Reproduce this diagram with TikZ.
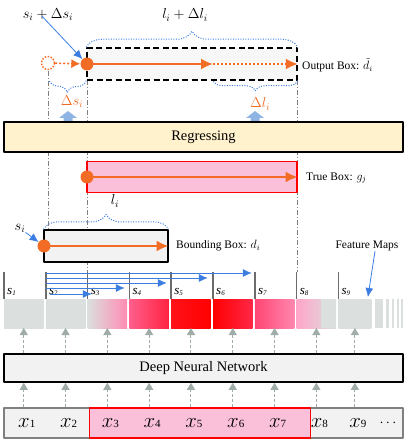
\documentclass[tikz,border=0pt]{standalone}
\usepackage{fontspec}
\setmainfont{Liberation Serif}
\usetikzlibrary{arrows.meta,decorations.pathreplacing}

\definecolor{boxorange}{RGB}{242,108,38}
\definecolor{arrowblue}{RGB}{60,125,225}
\definecolor{fatblue}{RGB}{142,180,227}
\definecolor{paleyellow}{RGB}{255,242,204}
\definecolor{truepink}{RGB}{250,192,218}
\definecolor{cellgray}{RGB}{219,223,222}
\definecolor{flowgray}{RGB}{160,172,168}
\definecolor{boxfill}{RGB}{242,242,242}
\definecolor{heatA}{RGB}{255,140,180}
\definecolor{heatB}{RGB}{255,95,140}
\definecolor{heatC}{RGB}{255,35,65}
\definecolor{heatD}{RGB}{255,18,25}
\definecolor{heatE}{RGB}{255,0,0}
\definecolor{heatF}{RGB}{255,40,72}
\definecolor{heatG}{RGB}{255,70,115}
\definecolor{heatH}{RGB}{255,135,175}
\definecolor{heatI}{RGB}{255,165,200}

\begin{document}
\begin{tikzpicture}[x=1pt, y=-1pt, line join=round,
  box/.style={draw, line width=1.5pt, fill=boxfill, inner sep=0pt},
  odot/.style={circle, fill=boxorange, inner sep=0pt, minimum size=13pt},
  movearrow/.style={-{Latex[length=12pt,width=11pt]}, boxorange, line width=2.6pt},
  pointer/.style={-{Latex[length=9pt,width=8pt]}, arrowblue, line width=0.8pt},
  brc/.style={arrowblue, line width=1pt, dash pattern=on 1pt off 1.5pt,
    decorate, decoration={brace, amplitude=#1}},
  guide/.style={gray, dash pattern=on 5pt off 2pt on 1pt off 2pt, line width=0.8pt},
  flow/.style={-{Triangle[length=7pt,width=8pt]}, flowgray, dash pattern=on 3pt off 2pt, line width=1pt},
  tickline/.style={gray!85!black, line width=1.5pt},
  lab/.style={font=\fontsize{11.5}{13}\selectfont, anchor=west, inner sep=0pt},
  mathlab/.style={font=\fontsize{14}{16}\selectfont, inner sep=0pt},
  bigtext/.style={font=\fontsize{14.5}{16}\selectfont}
]
\useasboundingbox (0,0) rectangle (409,443);

% guide lines behind everything
\draw[guide] (48,71) -- (48,229);
\draw[guide] (87,80) -- (87,272);
\draw[guide] (297,80) -- (297,272);

% output box
\node[box, fill=gray!6, dash pattern=on 6pt off 3.5pt, minimum width=210pt, minimum height=32pt] (obox) at (192,64) {};
\node[lab] (olab) at (302,65) {Output Box: $\tilde{d}_i$};
\node[circle, draw=boxorange, line width=1.5pt, dash pattern=on 1.5pt off 1.5pt, minimum size=13pt, inner sep=0pt] (oold) at (48,63) {};
\node[odot] (onew) at (87,64) {};
\coordinate (omid) at (213,64);
\draw[movearrow, line width=1.5pt, dash pattern=on 2pt off 2pt, -{Latex[length=9pt,width=9pt]}] (oold) -- (onew);
\draw[movearrow] (onew.center) -- (omid);
\draw[movearrow, line width=1.8pt, dash pattern=on 2pt off 2pt] (omid) -- (obox.east);
\draw[brc=16pt] (obox.north west) -- (obox.north east);
\draw[brc=12pt] (obox.south west) -- (49,80);
\draw[brc=10pt] (obox.south east) -- (omid |- obox.south);
\node[mathlab] (ltop) at (185,15) {$l_i + \Delta l_i$};
\node[mathlab] (stop) at (48,15) {$s_i + \Delta s_i$};
\draw[pointer] (stop.south) ++(-6,-5) -- (onew);
\node[mathlab, text=boxorange] (dslab) at (72,102) {$\Delta s_i$};
\node[mathlab, text=boxorange] (dllab) at (260,104) {$\Delta l_i$};
\foreach \ax in {68,255}
  \fill[fatblue] (\ax-4.5,122) -- (\ax-4.5,118) -- (\ax-9,118) -- (\ax,111)
    -- (\ax+9,118) -- (\ax+4.5,118) -- (\ax+4.5,122) -- cycle;

% regression layer
\node[box, fill=paleyellow, minimum width=399pt, minimum height=30pt, bigtext] (reg) at (203.5,137) {Regressing};

% true box
\node[draw=red, fill=truepink, line width=1.2pt, minimum width=210pt, minimum height=31pt, inner sep=0pt] (tbox) at (192,177) {};
\node[odot] (tdot) at (87,177) {};
\draw[movearrow] (tdot.center) -- (tbox.east);
\node[lab] (tlab) at (306,178) {True Box: $g_j$};

% bounding box
\node[box, line width=1.2pt, minimum width=124pt, minimum height=32pt] (bbox) at (106,246) {};
\node[odot] (bdot) at (44,246) {};
\draw[movearrow] (bdot.center) -- (bbox.east);
\draw[brc=15pt] (bbox.north west) -- (bbox.north east);
\node[mathlab] (lmid) at (115,201) {$l_i$};
\node[mathlab] (smid) at (20,228) {$s_i$};
\draw[pointer] (smid.south east) -- (bdot);
\node[lab] (blab) at (176,246) {Bounding Box: $d_i$};

% feature maps
\foreach \i/\w/\lc/\rc in {1/39.5/cellgray/cellgray, 2/39.5/cellgray/cellgray,
    3/39.5/cellgray/heatA, 4/39.5/heatB/heatC, 5/39.5/heatD/heatE,
    6/39.5/heatE/heatF, 7/39.5/heatG/heatH, 8/39.5/heatI/cellgray, 9/33/cellgray/cellgray}{
  \node[minimum width=\w pt, minimum height=29pt, inner sep=0pt, outer sep=0pt,
    left color=\lc, right color=\rc, anchor=north west] (f\i) at ({4+41.8*(\i-1)},299) {};
  \draw[tickline] (f\i.north west) -- ++(0,-27);
  \node[anchor=west, inner sep=0pt, font=\fontsize{13}{13}\selectfont] (s\i) at ([xshift=3pt,yshift=7pt]f\i.north west) {\textit{s}\raisebox{-1.5pt}{\fontsize{7}{7}\selectfont\itshape\i}};
}
\fill[cellgray] ([xshift=-15pt]f8.north east) rectangle (f8.south east);
\foreach \a/\b in {375/383, 386/389, 392/394, 397/398.5, 401/403}
  \fill[cellgray] (\a,299) rectangle (\b,328);
\foreach \dy/\dx/\len in {26/0/206, 21/0/162, 16/0/121, 11/0/79, 5/4/42}
  \draw[pointer] ([xshift=\dx pt, yshift=\dy pt]f2.north west) -- ++(\len,0);
\node[lab, anchor=center] (fmlab) at (367,246) {Feature Maps};
\draw[pointer] ([xshift=8pt]fmlab.south) -- ([xshift=13pt,yshift=2pt]f9.north);

% network and input
\node[box, minimum width=399pt, minimum height=28pt, bigtext] (dnn) at (203.5,368) {Deep Neural Network};
\node[box, draw=gray, minimum width=399pt, minimum height=30pt] (inbox) at (203.5,423) {};
\node[draw=red, fill=truepink, line width=1.2pt, minimum width=221pt, minimum height=30pt, inner sep=0pt, anchor=west] (gt) at (89,423) {};
\foreach \i in {1,...,9}{
  \draw[flow] (f\i |- inbox.north) -- (f\i |- dnn.south);
  \draw[flow] (f\i |- dnn.north) -- (f\i.south);
  \node[inner sep=0pt] (x\i) at ([xshift=3pt]f\i |- inbox) {{\fontsize{20}{20}\selectfont$x$}{\fontsize{11}{11}\selectfont\i}};
}
\node[font=\fontsize{14}{14}\selectfont] (xdots) at (388,423) {$\cdots$};
\end{tikzpicture}
\end{document}
